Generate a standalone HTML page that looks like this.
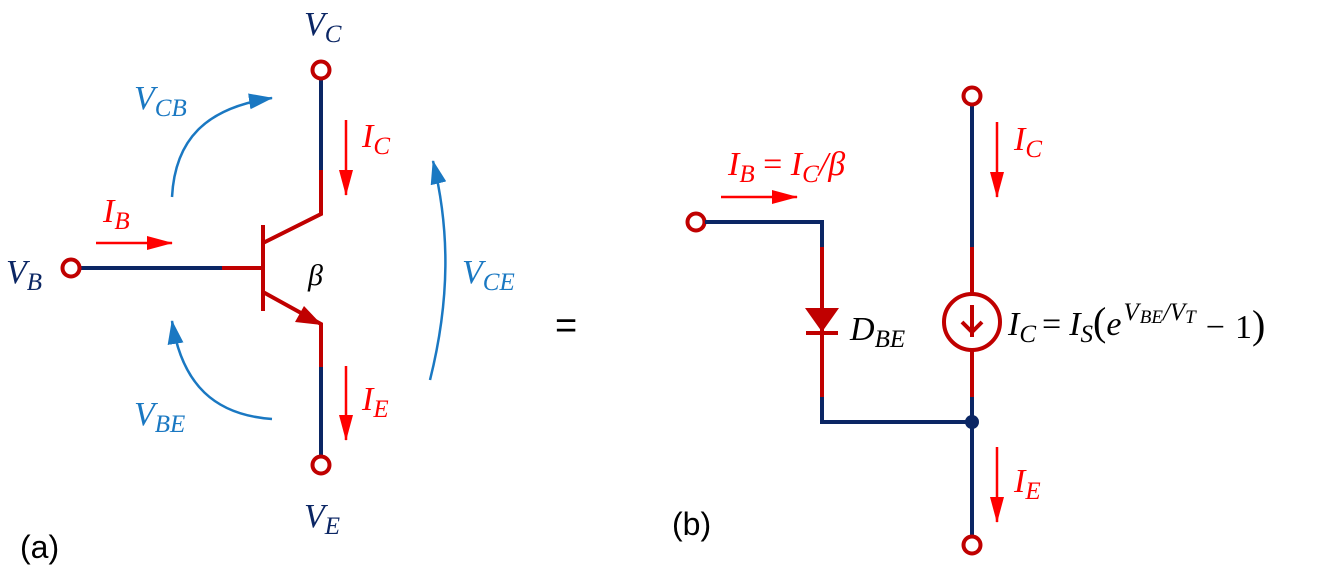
<!DOCTYPE html>
<html><head><meta charset="utf-8"><style>
html,body{margin:0;padding:0;background:#fff;}
svg{display:block;}
.m{font-family:"Liberation Serif",serif;font-style:italic;}
.s{font-family:"Liberation Sans",sans-serif;}
</style></head><body>
<svg width="1324" height="568" viewBox="0 0 1324 568" xmlns="http://www.w3.org/2000/svg">
<defs>
<marker id="ar" markerWidth="26" markerHeight="14" refX="25" refY="7" orient="auto" markerUnits="userSpaceOnUse" viewBox="0 0 26 14"><path d="M0,0 L26,7 L0,14z" fill="#ff0000"/></marker>
<marker id="ab" markerWidth="24" markerHeight="16" refX="23" refY="8" orient="auto" markerUnits="userSpaceOnUse" viewBox="0 0 24 16"><path d="M0,0 L24,8 L0,16z" fill="#1a78c2"/></marker>
</defs>
<g stroke-width="4" fill="none" stroke-linecap="butt">
<line x1="321" y1="79" x2="321" y2="170" stroke="#0b2664"/>
<polyline points="321,170 321,214 263,243" stroke="#c00000"/>
<line x1="263" y1="225" x2="263" y2="311" stroke="#c00000"/>
<line x1="80" y1="268" x2="222" y2="268" stroke="#0b2664"/>
<line x1="222" y1="268" x2="263" y2="268" stroke="#c00000"/>
<polyline points="263,292 321,324 321,367" stroke="#c00000"/>
<line x1="321" y1="367" x2="321" y2="456" stroke="#0b2664"/>
<circle cx="321" cy="70" r="8.5" stroke="#c00000"/>
<circle cx="321" cy="465" r="8.5" stroke="#c00000"/>
<circle cx="71" cy="268" r="8.5" stroke="#c00000"/>
</g>
<path d="M322,325 L295,322 L304,306z" fill="#c00000"/>
<g stroke="#ff0000" stroke-width="2.5" fill="none">
<line x1="346" y1="120" x2="346" y2="195" marker-end="url(#ar)"/>
<line x1="346" y1="366" x2="346" y2="440" marker-end="url(#ar)"/>
<line x1="96" y1="243" x2="172" y2="243" marker-end="url(#ar)"/>
</g>
<g stroke="#1a78c2" stroke-width="2.5" fill="none">
<path d="M172,197 C175,140 205,108 272,98" marker-end="url(#ab)"/>
<path d="M272,419 C215,415 182,385 172,321" marker-end="url(#ab)"/>
<path d="M430,380 C450,300 450,230 433,161" marker-end="url(#ab)"/>
</g>
<g class="m" font-size="34">
<text x="304" y="35" fill="#0b2664">V<tspan font-size="25" dy="7">C</tspan></text>
<text x="304" y="527" fill="#0b2664">V<tspan font-size="25" dy="7">E</tspan></text>
<text x="6" y="283" fill="#0b2664">V<tspan font-size="25" dy="7">B</tspan></text>
<text x="134" y="109" fill="#1a78c2">V<tspan font-size="25" dy="7">CB</tspan></text>
<text x="134" y="425" fill="#1a78c2">V<tspan font-size="25" dy="7">BE</tspan></text>
<text x="462" y="283" fill="#1a78c2">V<tspan font-size="25" dy="7">CE</tspan></text>
<text x="103" y="222" fill="#ff0000">I<tspan font-size="25" dy="7">B</tspan></text>
<text x="362" y="147" fill="#ff0000">I<tspan font-size="25" dy="7">C</tspan></text>
<text x="362" y="410" fill="#ff0000">I<tspan font-size="25" dy="7">E</tspan></text>
<text x="308" y="285" fill="#000" font-size="30">β</text>
</g>
<text class="s" x="20" y="558" font-size="32">(a)</text>
<text class="s" x="555" y="338" font-size="38">=</text>
<g stroke-width="4" fill="none">
<line x1="972" y1="105" x2="972" y2="247" stroke="#0b2664"/>
<line x1="972" y1="247" x2="972" y2="294" stroke="#c00000"/>
<line x1="972" y1="350" x2="972" y2="397" stroke="#c00000"/>
<line x1="972" y1="397" x2="972" y2="536" stroke="#0b2664"/>
<circle cx="972" cy="322" r="28" stroke="#c00000"/>
<circle cx="972" cy="96" r="8.5" stroke="#c00000"/>
<circle cx="972" cy="545" r="8.5" stroke="#c00000"/>
<circle cx="696" cy="222" r="8.5" stroke="#c00000"/>
<polyline points="705,222 822,222 822,247" stroke="#0b2664"/>
<line x1="822" y1="247" x2="822" y2="397" stroke="#c00000"/>
<polyline points="822,397 822,422 972,422" stroke="#0b2664"/>
<line x1="806" y1="333" x2="838" y2="333" stroke="#c00000"/>
<line x1="972" y1="305" x2="972" y2="337" stroke="#c00000"/>
<polyline points="962,322 972,332 982,322" stroke="#c00000"/>
</g>
<path d="M805,308 L839,308 L822,332z" fill="#c00000"/>
<circle cx="972" cy="422" r="7" fill="#0b2664"/>
<g stroke="#ff0000" stroke-width="2.5" fill="none">
<line x1="997" y1="122" x2="997" y2="197" marker-end="url(#ar)"/>
<line x1="997" y1="447" x2="997" y2="522" marker-end="url(#ar)"/>
<line x1="721" y1="197" x2="797" y2="197" marker-end="url(#ar)"/>
</g>
<g class="m" font-size="34">
<text x="728" y="175" fill="#ff0000">I<tspan font-size="25" dy="7">B</tspan><tspan dy="-7" font-style="normal"> = </tspan>I<tspan font-size="25" dy="7">C</tspan><tspan dy="-7">/β</tspan></text>
<text x="1014" y="150" fill="#ff0000">I<tspan font-size="25" dy="7">C</tspan></text>
<text x="1014" y="492" fill="#ff0000">I<tspan font-size="25" dy="7">E</tspan></text>
<text x="850" y="340" fill="#000">D<tspan font-size="25" dy="7">BE</tspan></text>
<text x="1008" y="335" fill="#000">I<tspan font-size="25" dy="7">C</tspan><tspan dy="-7" dx="6" font-style="normal">=</tspan><tspan dx="8">I</tspan><tspan font-size="25" dy="7">S</tspan><tspan dy="-7" font-style="normal" font-size="40">(</tspan>e<tspan font-size="25" dy="-15" dx="2">V</tspan><tspan font-size="19" dy="3" dx="1">BE</tspan><tspan font-size="25" dy="-3">/V</tspan><tspan font-size="19" dy="3">T</tspan><tspan dy="15" dx="10" font-style="normal">−</tspan><tspan dx="10" font-style="normal">1</tspan><tspan font-style="normal" font-size="40">)</tspan></text>
</g>
<text class="s" x="672" y="535" font-size="32">(b)</text>
</svg>
</body></html>
